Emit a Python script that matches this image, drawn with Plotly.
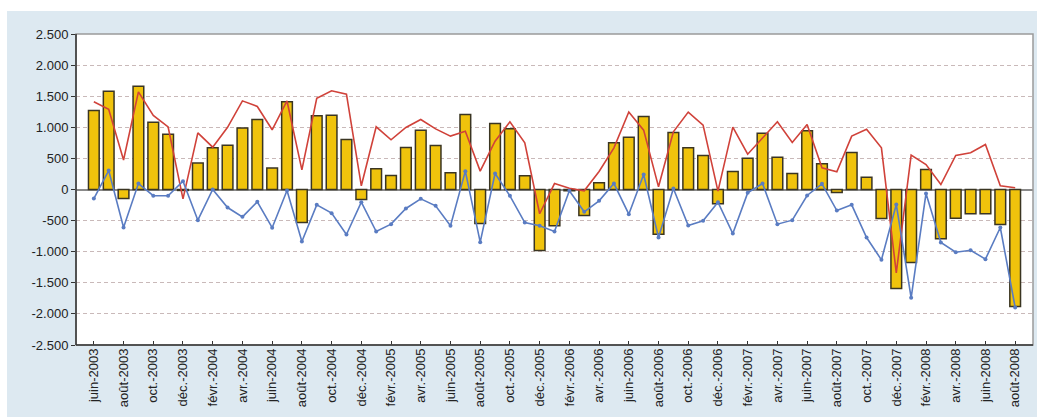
import plotly.graph_objects as go

months = ["juin-2003", "juil.-2003", "août-2003", "sept.-2003", "oct.-2003", "nov.-2003", "déc.-2003",
          "janv.-2004", "févr.-2004", "mars-2004", "avr.-2004", "mai-2004", "juin-2004", "juil.-2004",
          "août-2004", "sept.-2004", "oct.-2004", "nov.-2004", "déc.-2004",
          "janv.-2005", "févr.-2005", "mars-2005", "avr.-2005", "mai-2005", "juin-2005", "juil.-2005",
          "août-2005", "sept.-2005", "oct.-2005", "nov.-2005", "déc.-2005",
          "janv.-2006", "févr.-2006", "mars-2006", "avr.-2006", "mai-2006", "juin-2006", "juil.-2006",
          "août-2006", "sept.-2006", "oct.-2006", "nov.-2006", "déc.-2006",
          "janv.-2007", "févr.-2007", "mars-2007", "avr.-2007", "mai-2007", "juin-2007", "juil.-2007",
          "août-2007", "sept.-2007", "oct.-2007", "nov.-2007", "déc.-2007",
          "janv.-2008", "févr.-2008", "mars-2008", "avr.-2008", "mai-2008", "juin-2008", "juil.-2008",
          "août-2008"]

bars = [1270, 1580, -145, 1660, 1080, 890, -15,
        425, 670, 710, 990, 1125, 345, 1410, -531, 1185, 1195, 805, -161,
        332, 225, 675, 952, 708, 268, 1206, -547, 1061, 976, 220, -981,
        -584, -20, -418, 107, 750, 842, 1174, -718, 917, 670, 547, -230,
        289, 504, 905, 520, 257, 943, 413, -48, 595, 198, -466, -1590,
        -1174, 322, -793, -461, -391, -391, -563, -1881]

red = [1410, 1290, 475, 1570, 1190, 1005, -150,
       910, 680, 1000, 1425, 1335, 960, 1423, 315, 1465, 1588, 1533, 60,
       1008, 799, 997, 1126, 975, 858, 935, 295, 777, 1088, 750, -390,
       96, 20, -21, 290, 670, 1245, 954, 43, 927, 1244, 1034, -27,
       1002, 568, 820, 1088, 756, 1045, 348, 284, 858, 970, 670, -1340,
       552, 400, 80, 547, 590, 724, 59, 27]

blue = [-145, 305, -611, 96, -100, -100, 134,
        -493, 0, -290, -440, -198, -614, -15, -836, -247, -380, -724, -204,
        -675, -557, -305, -150, -263, -584, 295, -847, 257, -102, -531, -584,
        -675, -20, -359, -182, 96, -397, 241, -772, 16, -579, -504, -204,
        -708, -54, 96, -557, -493, -96, 91, -338, -247, -772, -1131, -240,
        -1742, -64, -852, -1008, -976, -1120, -611, -1897]

y_ticks = [-2500, -2000, -1500, -1000, -500, 0, 500, 1000, 1500, 2000, 2500]
y_ticktext = ["-2.500", "-2.000", "-1.500", "-1.000", "-500", "0", "500", "1.000", "1.500", "2.000", "2.500"]

x_idx = list(range(len(months)))

fig = go.Figure()
fig.add_trace(go.Bar(
    x=x_idx, y=bars,
    marker=dict(color="#F0C30C", line=dict(color="#3a3522", width=1.5)),
    showlegend=False,
))
fig.add_trace(go.Scatter(
    x=x_idx, y=red, mode="lines",
    line=dict(color="#D0423A", width=1.6),
    showlegend=False,
))
fig.add_trace(go.Scatter(
    x=x_idx, y=blue, mode="lines+markers",
    line=dict(color="#5A7CC2", width=1.6),
    marker=dict(color="#5A7CC2", size=4),
    showlegend=False,
))

fig.update_layout(
    width=1037, height=417,
    margin=dict(l=76, r=4, t=34, b=72),
    paper_bgcolor="#DDE9F1",
    plot_bgcolor="#FFFFFF",
    bargap=0.28,
    font=dict(family="Liberation Sans, Arial, sans-serif", color="#222222"),
    shapes=[
        dict(type="rect", xref="paper", yref="paper", x0=-0.2, x1=1.1, y0=1.0 + 23/311, y1=1.2,
             fillcolor="#FFFFFF", line=dict(width=0), layer="below"),
        dict(type="rect", xref="paper", yref="paper", x0=-0.2, x1=-69/957, y0=-0.3, y1=1.2,
             fillcolor="#FFFFFF", line=dict(width=0), layer="below"),
        dict(type="rect", xref="paper", yref="paper", x0=0, x1=1, y0=0, y1=1,
             fillcolor="rgba(0,0,0,0)", line=dict(color="#9a9a9a", width=1.5), layer="above"),
        dict(type="line", xref="paper", yref="paper", x0=0, x1=0, y0=0, y1=1,
             line=dict(color="#333333", width=1.5), layer="above"),
        dict(type="line", xref="paper", yref="paper", x0=0, x1=1, y0=0, y1=0,
             line=dict(color="#333333", width=1.5), layer="above"),
    ],
)

fig.update_xaxes(
    range=[-1.2, 63.2],
    tickmode="array", tickvals=x_idx[::2], ticktext=months[::2],
    tickangle=-90, tickfont=dict(size=13, color="#222222"),
    ticks="inside", ticklen=4, tickcolor="#333333",
    showgrid=False, zeroline=False, showline=False,
    automargin=False,
)
fig.update_yaxes(
    range=[-2500, 2500],
    tickmode="array", tickvals=y_ticks, ticktext=y_ticktext,
    tickfont=dict(size=13, color="#222222"),
    ticks="outside", ticklen=4, tickcolor="#333333",
    showgrid=True, gridcolor="#C9B9B9", griddash="4px,3px", gridwidth=1,
    zeroline=True, zerolinecolor="#8a8a8a", zerolinewidth=1.5,
    showline=False, automargin=False,
)

fig.write_html("out.html", config={"displayModeBar": False})

# remove the browser's default page margin so the figure sits at (0, 0)
with open("out.html", "r", encoding="utf-8") as f:
    html = f.read()
html = html.replace("<head>", "<head><style>html,body{margin:0;padding:0;overflow:hidden;}</style>", 1)
with open("out.html", "w", encoding="utf-8") as f:
    f.write(html)
